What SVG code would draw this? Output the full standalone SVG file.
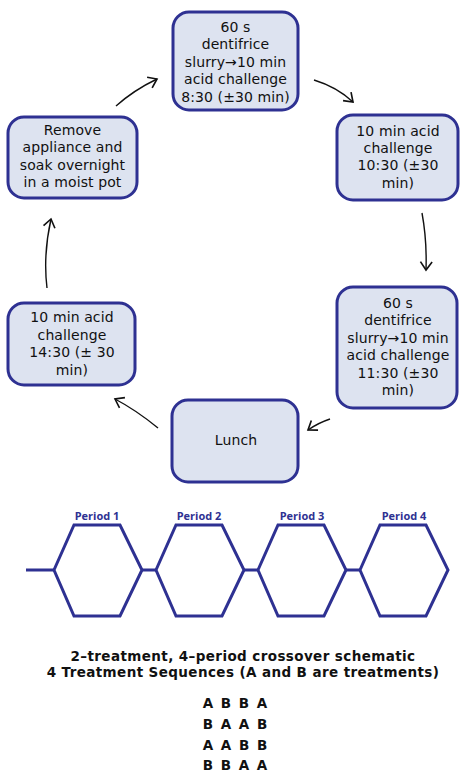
<svg xmlns="http://www.w3.org/2000/svg" width="460" height="773" viewBox="0 0 460 773">
<style>
.box{fill:#dde3f0;stroke:#2e3192;stroke-width:3}
.t{font-family:"DejaVu Sans","Liberation Sans",sans-serif;font-size:14px;letter-spacing:0.1px;fill:#111;text-anchor:middle}
.arr{fill:none;stroke:#111;stroke-width:1.4}
.hex{fill:none;stroke:#2e3192;stroke-width:3;stroke-linejoin:miter}
.p{font-family:"Open Sans","Liberation Sans",sans-serif;font-size:11px;font-weight:700;fill:#2e3192;text-anchor:middle}
.h{font-family:"DejaVu Sans","Liberation Sans",sans-serif;font-size:13.5px;letter-spacing:0.4px;font-weight:700;fill:#111;text-anchor:middle}
.s{font-family:"DejaVu Sans","Liberation Sans",sans-serif;font-size:13.5px;font-weight:700;fill:#111;text-anchor:middle;word-spacing:3px}
</style>
<defs>
<marker id="ah" markerUnits="userSpaceOnUse" markerWidth="14" markerHeight="14" viewBox="-8 -6 10 12" refX="0" refY="0" orient="auto">
<path d="M-7,-5 L0,0 L-7,5" fill="none" stroke="#111" stroke-width="1.4"/>
</marker>
</defs>
<g id="n-top">
<rect class="box" x="173" y="12" width="125" height="98" rx="16"/>
<text class="t" x="235.5" y="32">60 s</text>
<text class="t" x="235.5" y="49">dentifrice</text>
<text class="t" x="235.5" y="67">slurry→10 min</text>
<text class="t" x="235.5" y="84">acid challenge</text>
<text class="t" x="235.5" y="102">8:30 (±30 min)</text>
</g>
<g id="n-1030">
<rect class="box" x="337" y="115" width="121" height="85" rx="16"/>
<text class="t" x="398" y="136">10 min acid</text>
<text class="t" x="398" y="153">challenge</text>
<text class="t" x="398" y="170">10:30 (±30</text>
<text class="t" x="398" y="188">min)</text>
</g>
<g id="n-1130">
<rect class="box" x="337" y="287" width="120" height="121" rx="16"/>
<text class="t" x="398" y="308">60 s</text>
<text class="t" x="398" y="325">dentifrice</text>
<text class="t" x="398" y="343">slurry→10 min</text>
<text class="t" x="398" y="360">acid challenge</text>
<text class="t" x="398" y="378">11:30 (±30</text>
<text class="t" x="398" y="395">min)</text>
</g>
<g id="n-lunch">
<rect class="box" x="172" y="400" width="126" height="82" rx="16"/>
<text class="t" x="236" y="445">Lunch</text>
</g>
<g id="n-1430">
<rect class="box" x="8" y="303" width="127" height="82" rx="16"/>
<text class="t" x="72" y="322">10 min acid</text>
<text class="t" x="72" y="340">challenge</text>
<text class="t" x="72" y="357">14:30 (± 30</text>
<text class="t" x="72" y="375">min)</text>
</g>
<g id="n-remove">
<rect class="box" x="8" y="117" width="129" height="81" rx="16"/>
<text class="t" x="72.5" y="135">Remove</text>
<text class="t" x="72.5" y="152">appliance and</text>
<text class="t" x="72.5" y="170">soak overnight</text>
<text class="t" x="72.5" y="187">in a moist pot</text>
</g>
<g id="connectors">
<path class="arr" d="M116,106 Q134,90 157,79" marker-end="url(#ah)"/>
<path class="arr" d="M314,80 Q337,87 353,102" marker-end="url(#ah)"/>
<path class="arr" d="M422,213 Q427,240 426,270" marker-end="url(#ah)"/>
<path class="arr" d="M330,419 Q318,423 308,430" marker-end="url(#ah)"/>
<path class="arr" d="M158,428 Q136,410 115,399" marker-end="url(#ah)"/>
<path class="arr" d="M47,288 Q43,255 51,219" marker-end="url(#ah)"/>
</g>
<g id="periods">
<path class="hex" d="M26,570 H54 M142,570 H156 M244,570 H258 M346,570 H360"/>
<polygon class="hex" points="54,570 74,525 120,525 142,570 120,616 74,616"/>
<polygon class="hex" points="156,570 176,525 222,525 244,570 222,616 176,616"/>
<polygon class="hex" points="258,570 278,525 324,525 346,570 324,616 278,616"/>
<polygon class="hex" points="360,570 380,525 426,525 448,570 426,616 380,616"/>
<text class="p" x="97" y="520">Period 1</text>
<text class="p" x="199" y="520">Period 2</text>
<text class="p" x="302" y="520">Period 3</text>
<text class="p" x="404" y="520">Period 4</text>
</g>
<g id="caption">
<text class="h" x="243" y="661">2–treatment, 4–period crossover schematic</text>
<text class="h" x="243" y="677">4 Treatment Sequences (A and B are treatments)</text>
<text class="s" x="235" y="708">A B B A</text>
<text class="s" x="235" y="729">B A A B</text>
<text class="s" x="235" y="750">A A B B</text>
<text class="s" x="235" y="770">B B A A</text>
</g>
</svg>
